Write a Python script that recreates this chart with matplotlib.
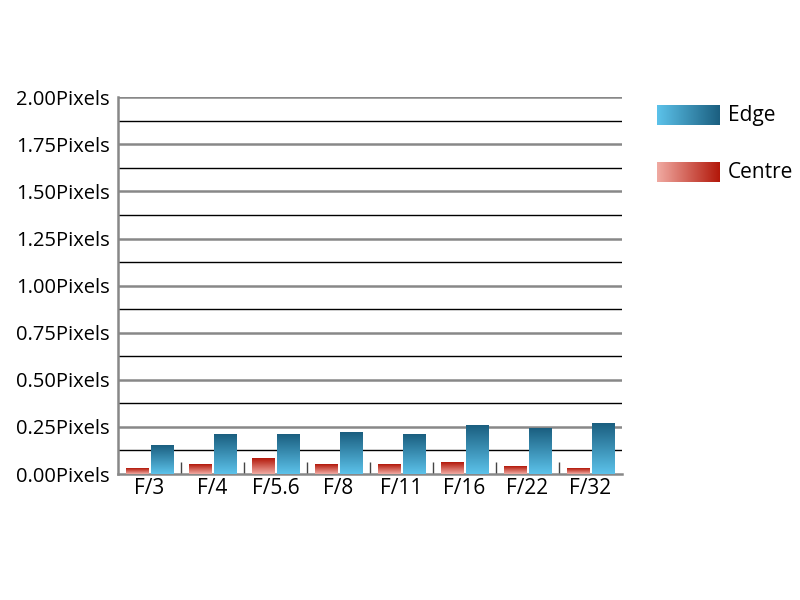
import numpy as np
import matplotlib
matplotlib.use("Agg")
import matplotlib.pyplot as plt
from matplotlib.colors import LinearSegmentedColormap

plt.rcParams['font.family'] = ['Open Sans', 'DejaVu Sans']

stops = ["F/3", "F/4", "F/5.6", "F/8", "F/11", "F/16", "F/22", "F/32"]
centre = [0.03, 0.05, 0.08, 0.05, 0.05, 0.06, 0.04, 0.03]
edge = [0.15, 0.21, 0.21, 0.22, 0.21, 0.26, 0.24, 0.27]

blue = LinearSegmentedColormap.from_list("blue", ["#5cc2ea", "#1b5f80"])
red = LinearSegmentedColormap.from_list("red", ["#f0aaa2", "#b3180a"])

fig = plt.figure(figsize=(8, 6), dpi=100)
ax = fig.add_axes([0.1475, 0.21, 0.63, 0.628])

x = np.arange(len(stops))
w = 0.36
off = 0.198
grad = np.linspace(0, 1, 100).reshape(-1, 1)

def gradient_bars(bars, cmap):
    for b in bars:
        x0, y0 = b.get_x(), b.get_y()
        ax.imshow(grad, cmap=cmap, origin="lower", aspect="auto",
                  extent=(x0, x0 + b.get_width(), y0, y0 + b.get_height()),
                  zorder=3)

cb = ax.bar(x - off, centre, w, color="none", edgecolor="none", zorder=3)
eb = ax.bar(x + off, edge, w, color="none", edgecolor="none", zorder=4)
gradient_bars(cb, red)
gradient_bars(eb, blue)

ax.set_xlim(-0.5, len(stops) - 0.5)
ax.set_ylim(0, 2.0)

# grid: grey at labelled values, black in between
for v in np.arange(0.25, 2.01, 0.25):
    ax.axhline(v, color="#888888", lw=1.8, zorder=1)
for v in np.arange(0.125, 2.0, 0.25):
    ax.axhline(v, color="black", lw=1.0, zorder=1)

ax.set_yticks(np.arange(0, 2.01, 0.25))
ax.set_yticklabels([f"{v:.2f}Pixels" for v in np.arange(0, 2.01, 0.25)], fontsize=14.5)
ax.tick_params(axis="y", length=0, pad=6)

ax.set_xticks(x)
ax.set_xticklabels(stops, fontsize=15)
ax.set_xticks(x[:-1] + 0.5, minor=True)
ax.tick_params(axis="x", which="major", length=0, pad=3)
ax.tick_params(axis="x", which="minor", direction="in", length=9, color="#444444", width=1)

for s in ["top", "right"]:
    ax.spines[s].set_visible(False)
ax.spines["left"].set_color("#888888")
ax.spines["left"].set_linewidth(1.8)
ax.spines["bottom"].set_color("#888888")
ax.spines["bottom"].set_linewidth(1.8)

# legend with horizontal gradients
hgrad = np.linspace(0, 1, 100).reshape(1, -1)
for label, cmap, ytop in [("Edge", blue, 105), ("Centre", red, 162)]:
    lax = fig.add_axes([657 / 800, 1 - (ytop + 20) / 600, 63 / 800, 20 / 600])
    lax.imshow(hgrad, cmap=cmap, aspect="auto")
    lax.axis("off")
    fig.text(728 / 800, 1 - (ytop + 10) / 600, label, fontsize=15, va="center")

fig.savefig("out.png", dpi=100)
